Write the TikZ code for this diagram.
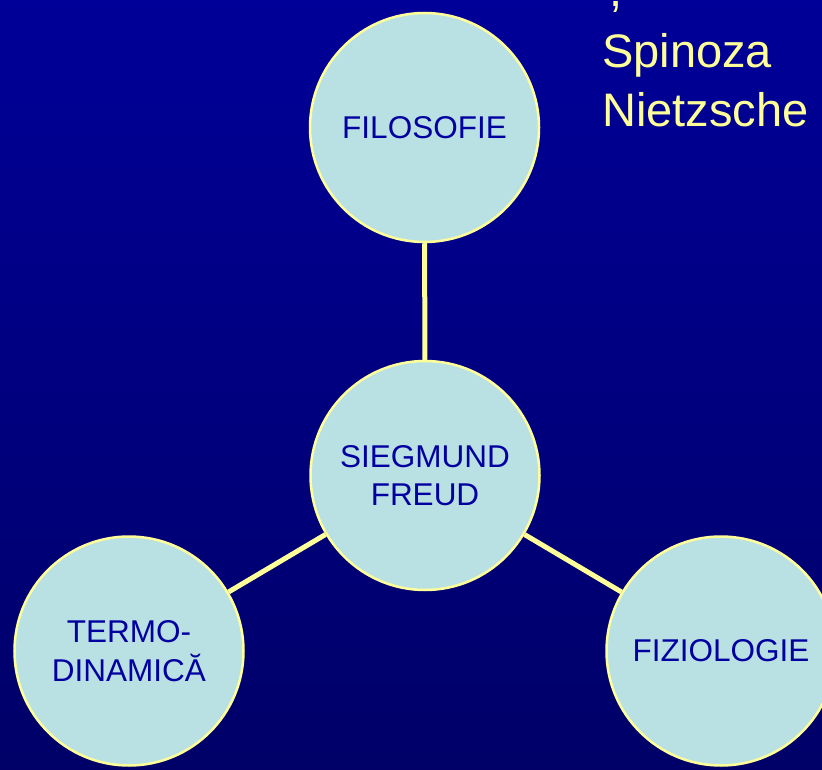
\documentclass[tikz,border=0pt]{standalone}
\usepackage{fontspec}
\setmainfont{Liberation Sans}
\usetikzlibrary{backgrounds}
\definecolor{bgtop}{RGB}{0,0,152}
\definecolor{bgbot}{RGB}{0,0,104}
\definecolor{circfill}{RGB}{185,224,227}
\definecolor{edgeyel}{RGB}{255,255,153}
\definecolor{txtblue}{RGB}{0,0,160}
\begin{document}
\begin{tikzpicture}[x=1pt,y=-1pt,
  topic/.style={circle,draw=edgeyel,line width=2.5pt,fill=circfill,inner sep=0pt,
    minimum size=229pt,text=txtblue,align=center,
    font=\fontsize{31.5}{38.5}\selectfont},
  link/.style={draw=edgeyel,line width=5pt},
  names/.style={text=edgeyel,anchor=base west,inner sep=0pt,font=\fontsize{47}{56}\selectfont}]
\useasboundingbox (0,0) rectangle (822,770);
\node[topic] (fil) at (424.5,127.5) {FILOSOFIE};
\node[topic] (fre) at (425,475.5) {SIEGMUND\\FREUD};
\node[topic] (ter) at (129,651) {TERMO-\\DINAMICĂ};
\node[topic] (fiz) at (721,651) {FIZIOLOGIE};
\begin{scope}[on background layer]
\shade[top color=bgtop,bottom color=bgbot] (0,0) rectangle (822,770);
\draw[link] (fil) -- (fre);
\draw[link] (fre) -- (ter);
\draw[link] (fre) -- (fiz);
\end{scope}
\node[names] (cm) at (609,6.5) {,};
\node[names] (spi) at (602,68) {Spinoza};
\node[names] (nie) at (602,127) {Nietzsche};
\end{tikzpicture}
\end{document}
